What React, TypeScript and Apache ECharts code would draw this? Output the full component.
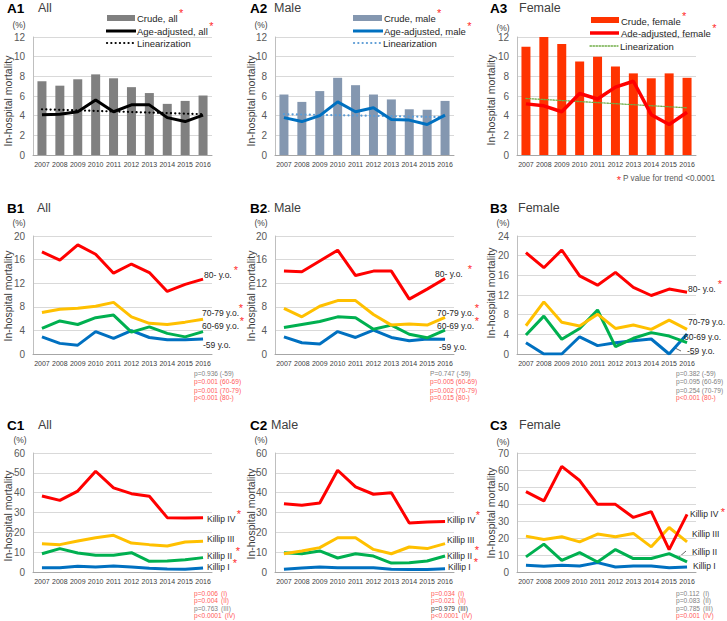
import React, { useEffect, useRef } from 'react';
import * as echarts from 'echarts';

const FONT = "'Liberation Sans', Arial, sans-serif";

const years = ['2007', '2008', '2009', '2010', '2011', '2012', '2013', '2014', '2015', '2016'];

// Row A: crude bars, age-adjusted lines, linearization (endpoints only)
const a1Crude = [7.5, 7.05, 7.7, 8.2, 7.8, 6.9, 6.3, 5.2, 5.5, 6.05];
const a1Adj = [4.1, 4.15, 4.4, 5.6, 4.4, 5.1, 5.1, 3.8, 3.4, 4.05];
const a1Lin = [4.65, null, null, null, null, null, null, null, null, 4.15];
const a2Crude = [6.15, 5.4, 6.5, 7.85, 7.1, 6.15, 5.65, 4.65, 4.6, 5.5];
const a2Adj = [3.8, 3.4, 4.0, 5.4, 4.4, 4.8, 3.6, 3.55, 3.1, 4.05];
const a2Lin = [4.15, null, null, null, null, null, null, null, null, 3.85];
const a3Crude = [11.0, 12.0, 11.3, 9.5, 10.0, 9.0, 8.3, 7.8, 8.3, 7.85];
const a3Adj = [5.2, 5.0, 4.4, 6.25, 5.7, 6.9, 7.5, 4.1, 3.1, 4.35];
const a3Lin = [5.75, null, null, null, null, null, null, null, null, 4.8];

// Row B: age groups
const b1Age80 = [17.3, 15.9, 18.5, 16.9, 13.7, 15.25, 13.8, 10.6, 11.8, 12.7];
const b1Age70 = [7.05, 7.6, 7.75, 8.1, 8.75, 6.3, 5.2, 5.0, 5.4, 5.9];
const b1Age60 = [4.35, 5.6, 5.0, 6.15, 6.6, 3.7, 4.6, 3.5, 2.9, 3.8];
const b1Age59 = [2.9, 1.8, 1.5, 3.8, 2.65, 3.95, 2.8, 2.4, 2.4, 2.55];
const b2Age80 = [14.05, 13.95, 15.75, 17.6, 13.3, 14.05, 14.05, 9.3, 11.0, 12.8];
const b2Age70 = [7.75, 6.3, 8.1, 9.05, 9.05, 6.7, 4.9, 5.1, 4.9, 6.2];
const b2Age60 = [4.5, 5.0, 5.5, 6.3, 6.15, 4.2, 4.9, 3.35, 2.75, 4.05];
const b2Age59 = [2.9, 1.9, 1.7, 3.8, 2.8, 4.05, 2.8, 2.25, 2.55, 2.5];
const b3Age80 = [20.6, 17.55, 21.15, 15.9, 14.0, 16.6, 13.55, 11.9, 13.2, 12.55];
const b3Age70 = [5.75, 10.6, 6.45, 5.7, 8.1, 5.2, 5.9, 5.0, 6.9, 5.0];
const b3Age60 = [3.85, 7.7, 3.0, 5.2, 8.95, 1.5, 3.2, 4.35, 3.65, 2.3];
const b3Age59 = [2.3, 0, 0, 3.5, 1.7, 2.3, 2.7, 3.05, 0, 4.05];

// Row C: Killip class
const c1K4 = [38.3, 36.1, 40.8, 50.8, 42.4, 39.5, 38.2, 27.4, 27.2, 27.4];
const c1K3 = [14.3, 13.8, 15.6, 17.3, 18.5, 14.6, 13.8, 13.1, 15.1, 15.5];
const c1K2 = [9.2, 11.8, 9.6, 8.4, 8.4, 9.75, 5.4, 5.55, 6.2, 7.25];
const c1K1 = [2.2, 2.2, 2.85, 2.5, 3.0, 2.5, 1.85, 1.5, 1.35, 2.0];
const c2K4 = [34.45, 33.6, 34.8, 51.3, 42.9, 39.2, 40.0, 24.7, 25.2, 25.5];
const c2K3 = [9.2, 10.6, 12.3, 17.3, 17.3, 11.4, 9.2, 12.6, 11.8, 14.3];
const c2K2 = [9.75, 9.2, 10.6, 7.05, 9.2, 8.05, 4.5, 4.7, 5.55, 8.05];
const c2K1 = [1.35, 2.0, 2.5, 2.2, 2.2, 2.2, 1.35, 1.2, 1.2, 1.7];
const c3K4 = [47.3, 41.8, 62.1, 53.8, 39.8, 39.8, 32.1, 35.5, 13.2, 33.9];
const c3K3 = [21.1, 19.1, 20.7, 17.75, 22.3, 20.7, 22.7, 14.8, 26.2, 17.75];
const c3K2 = [8.9, 16.4, 6.9, 11.4, 5.9, 13.2, 7.9, 7.9, 10.8, 5.9];
const c3K1 = [3.9, 3.35, 3.9, 3.55, 5.5, 2.95, 3.55, 3.55, 2.55, 2.95];

const RED = '#FF0000';
const YEL = '#FFC000';
const GRN = '#00B050';
const BLU = '#0070C0';
const PRED = '#FF5B5B';
const PGRY = '#7F7F7F';

const colLeft = [33, 275, 517];
const rowTop = [37, 236, 453];
const rowH = [118, 118, 119];
const yMax = [12, 12, 12, 20, 20, 24, 60, 60, 70];
const yInt = [2, 2, 2, 4, 4, 4, 10, 10, 10];

let measureCtx: CanvasRenderingContext2D | null = null;
function tw(text: string, size: number, weight = 'normal') {
  if (!measureCtx) measureCtx = document.createElement('canvas').getContext('2d');
  if (!measureCtx) return text.length * size * 0.5;
  measureCtx.font = `${weight} ${size}px ${FONT}`;
  return measureCtx.measureText(text).width;
}

function txt(x: number, y: number, text: string, size: number, fill = '#404040', align = 'left', weight = 'normal', rotation = 0) {
  return {
    type: 'text',
    x,
    y,
    rotation,
    silent: true,
    z: 10,
    style: {
      text,
      fill,
      font: `${weight} ${size}px ${FONT}`,
      align,
      verticalAlign: 'middle',
      textAlign: align,
      textVerticalAlign: 'middle',
    },
  };
}
function star(x: number, y: number) {
  return txt(x, y, '*', 11, '#FF2A2A', 'center');
}
function hline(x1: number, x2: number, y: number, color: string, width: number, dash?: number[]) {
  return {
    type: 'line',
    silent: true,
    shape: { x1, y1: y, x2, y2: y },
    style: { stroke: color, lineWidth: width, lineDash: dash, lineCap: dash ? 'round' : 'butt' },
  };
}

function buildOption() {
  const grid: any[] = [];
  const xAxis: any[] = [];
  const yAxis: any[] = [];
  for (let i = 0; i < 9; i++) {
    const r = Math.floor(i / 3);
    const c = i % 3;
    grid.push({ left: colLeft[c], top: rowTop[r], width: 179, height: rowH[r] });
    xAxis.push({
      type: 'category',
      gridIndex: i,
      data: years,
      boundaryGap: true,
      axisTick: { show: false },
      axisLine: { lineStyle: { color: '#A6A6A6', width: 1 } },
      axisLabel: { interval: 0, fontSize: 7, color: '#404040', margin: 6, fontFamily: FONT },
    });
    yAxis.push({
      type: 'value',
      gridIndex: i,
      min: 0,
      max: yMax[i],
      interval: yInt[i],
      axisLine: { show: true, lineStyle: { color: '#BFBFBF' } },
      axisTick: { show: false },
      splitLine: { lineStyle: { color: '#D9D9D9' } },
      axisLabel: { fontSize: 10, color: '#595959', margin: 8, fontFamily: FONT },
    });
  }

  const series: any[] = [];
  const bar = (i: number, data: number[], color: string) =>
    series.push({ type: 'bar', xAxisIndex: i, yAxisIndex: i, data, barWidth: 9, itemStyle: { color }, z: 2 });
  const line = (i: number, data: (number | null)[], color: string, width = 3, type: any = 'solid', connect = false) =>
    series.push({
      type: 'line',
      xAxisIndex: i,
      yAxisIndex: i,
      data,
      symbol: 'none',
      connectNulls: connect,
      lineStyle: { color, width, type, cap: type === 'solid' ? 'butt' : 'round' },
      z: 3,
    });

  bar(0, a1Crude, '#808080');
  line(0, a1Lin, '#000000', 2.2, [0.1, 4.2], true);
  line(0, a1Adj, '#000000', 3);
  bar(1, a2Crude, '#8497B0');
  line(1, a2Lin, '#5B9BD5', 2.2, [0.1, 4.2], true);
  line(1, a2Adj, '#0070C0', 3);
  bar(2, a3Crude, '#FF3300');
  line(2, a3Lin, '#70AD47', 1.3, [1.5, 1.5], true);
  line(2, a3Adj, '#FF0000', 3.5);

  const groups: [number, (number | null)[][]][] = [
    [3, [b1Age59, b1Age60, b1Age70, b1Age80]],
    [4, [b2Age59, b2Age60, b2Age70, b2Age80]],
    [5, [b3Age59, b3Age60, b3Age70, b3Age80]],
    [6, [c1K1, c1K2, c1K3, c1K4]],
    [7, [c2K1, c2K2, c2K3, c2K4]],
    [8, [c3K1, c3K2, c3K3, c3K4]],
  ];
  const gc = [BLU, GRN, YEL, RED];
  groups.forEach(([i, arr]) => arr.forEach((d, k) => line(i, d, gc[k], 3)));

  const g: any[] = [];
  const starred = (x: number, y: number, t: string, size: number, fill: string, hasStar: boolean, dy = -5) => {
    g.push(txt(x, y, t, size, fill));
    if (hasStar) g.push(star(x + tw(t, size) + 3.5, y + dy));
  };

  // Titles
  const titles: [number, number, string, number, string][] = [
    [7, 8, 'A1', 38, 'All'],
    [250, 8, 'A2', 274, 'Male'],
    [490, 8, 'A3', 519, 'Female'],
    [7, 208, 'B1', 37, 'All'],
    [250, 208, 'B2', 267, '. Male'],
    [490, 208, 'B3', 518, 'Female'],
    [7, 425, 'C1', 38, 'All'],
    [250, 425, 'C2', 271, 'Male'],
    [490, 425, 'C3', 519, 'Female'],
  ];
  titles.forEach(([x, y, b, x2, t]) => {
    g.push(txt(x, y, b, 13.5, '#000000', 'left', 'bold'));
    g.push(txt(x2, y, t, 12.5, '#404040'));
  });
  // (%) marks
  const pct: [number, number][] = [
    [19, 25], [261, 25], [503, 28],
    [19, 223], [261, 223], [503, 223],
    [20, 440], [261, 440], [503, 442],
  ];
  pct.forEach(([x, y]) => g.push(txt(x, y, '(%)', 8.5, '#404040', 'center')));
  // y titles
  const yt: [number, number][] = [
    [8, 101], [251, 101], [491, 100],
    [8, 296], [251, 296], [491, 293],
    [8, 516], [251, 514], [491, 513],
  ];
  yt.forEach(([x, y]) => g.push(txt(x, y, 'In-hospital mortality', 10.5, '#404040', 'center', 'normal', Math.PI / 2)));

  // Legends row A
  const LF = 9.5;
  const LC = '#262626';
  g.push({ type: 'rect', silent: true, shape: { x: 107, y: 15, width: 28, height: 6 }, style: { fill: '#808080' } });
  starred(137, 18, 'Crude, all', LF, LC, true);
  g.push(hline(106, 136, 31, '#000000', 3));
  starred(137, 31, 'Age-adjusted, all', LF, LC, true);
  g.push(hline(107, 135, 43, '#000000', 2.2, [0.1, 4.2]));
  starred(137, 43, 'Linearization', LF, LC, false);

  g.push({ type: 'rect', silent: true, shape: { x: 353, y: 15, width: 29, height: 6 }, style: { fill: '#8497B0' } });
  starred(384, 18, 'Crude, male', LF, LC, true);
  g.push(hline(353, 383, 31, '#0070C0', 3));
  starred(384, 31, 'Age-adjusted, male', LF, LC, true);
  g.push(hline(354, 381, 43, '#5B9BD5', 2.2, [0.1, 4.2]));
  starred(383, 43, 'Linearization', LF, LC, false);

  g.push({ type: 'rect', silent: true, shape: { x: 591, y: 17, width: 28, height: 6 }, style: { fill: '#FF3300' } });
  starred(621, 21, 'Crude, female', LF, LC, true);
  g.push(hline(590, 619, 33, '#FF0000', 3.5));
  starred(621, 33, 'Ade-adjusted, female', LF, LC, true);
  g.push(hline(590, 618, 46, '#70AD47', 1.3, [1.5, 1.5]));
  starred(620, 46, 'Linearization', LF, LC, false);
  g.push(star(619, 180));
  g.push(txt(623, 178, 'P value for trend <0.0001', 8.2, '#595959'));

  // Row B / C series labels
  const lab: [number, number, string][] = [
    [204, 275, '80- y.o.'], [202, 313, '70-79 y.o.'], [202, 326, '60-69 y.o.'], [203, 345, '-59 y.o.'],
    [435, 274, '80- y.o.'], [437, 313, '70-79 y.o.'], [437, 326, '60-69 y.o.'], [439, 347, '-59 y.o.'],
    [688, 289, '80- y.o.'], [688, 322, '70-79 y.o.'], [684, 337, '60-69 y.o.'], [687, 351, '-59 y.o.'],
    [207, 519, 'Killip IV'], [207, 539, 'Killip III'], [207, 556, 'Killip II'], [207, 567, 'Killip I'],
    [447, 520, 'Killip IV'], [447, 540, 'Killip III'], [447, 556, 'Killip II'], [448, 567, 'Killip I'],
    [690, 514, 'Killip IV'], [692, 534, 'Killip III'], [692, 552, 'Killip II'], [693, 566, 'Killip I'],
  ];
  lab.forEach(([x, y, t]) => g.push(txt(x, y, t, 8.5, '#262626')));
  // asterisks marking significant trends (positions)
  const stars: [number, number][] = [
    [236, 270], [241, 308], [242, 321],
    [470, 269], [477, 308], [477, 321],
    [720, 284],
    [239, 514], [238, 551], [235, 563],
    [478, 515], [477, 550], [476, 562],
    [723, 512],
  ];
  stars.forEach(([x, y]) => g.push(star(x, y)));
  g.push({ type: 'line', silent: true, shape: { x1: 675, y1: 348, x2: 681, y2: 351 }, style: { stroke: '#404040', lineWidth: 0.8 } });
  g.push({ type: 'line', silent: true, shape: { x1: 678, y1: 558, x2: 686, y2: 551 }, style: { stroke: '#404040', lineWidth: 0.8 } });

  // p-values
  const PF = 6.6;
  const pvB: [number, string[], string[]][] = [
    [194, ['p=0.936 (-59)', 'p=0.001 (60-69)', 'p=0.001 (70-79)', 'p<0.001 (80-)'], [PGRY, PRED, PRED, PRED]],
    [430, ['P=0.747 (-59)', 'p=0.005 (60-69)', 'p=0.002 (70-79)', 'p=0.015 (80-)'], [PGRY, PRED, PRED, PRED]],
    [676, ['p=0.382 (-59)', 'p=0.095 (60-69)', 'p=0.254 (70-79)', 'p<0.001 (80-)'], [PGRY, PGRY, PGRY, PRED]],
  ];
  const pyB = [373, 381.5, 390, 397.5];
  pvB.forEach(([x, ts, cs]) => ts.forEach((t, k) => g.push(txt(x, pyB[k], t, PF, cs[k]))));

  const pvC: [number, string[], string[], string[]][] = [
    [194, ['p=0.006', 'p=0.004', 'p=0.763', 'p<0.0001'], ['(I)', '(II)', '(III)', '(IV)'], [PRED, PRED, PGRY, PRED]],
    [431, ['p=0.034', 'p=0.021', 'p=0.979', 'p<0.0001'], ['(I)', '(II)', '(III)', '(IV)'], [PRED, PRED, '#404040', PRED]],
    [676, ['p=0.112', 'p=0.083', 'p=0.785', 'p=0.001'], ['(I)', '(II)', '(III)', '(IV)'], [PGRY, PGRY, PGRY, PRED]],
  ];
  const pyC = [593, 600.5, 608, 615.5];
  pvC.forEach(([x, ts, ps, cs]) =>
    ts.forEach((t, k) => {
      g.push(txt(x, pyC[k], t, PF, cs[k]));
      const x2 = t.startsWith('p<') ? x + tw(t, PF) + 3 : x + 27;
      g.push(txt(x2, pyC[k], ps[k], PF, cs[k]));
    })
  );

  return {
    animation: false,
    backgroundColor: '#ffffff',
    textStyle: { fontFamily: FONT },
    grid,
    xAxis,
    yAxis,
    series,
    graphic: g,
  };
}

export default function App() {
  const ref = useRef<HTMLDivElement>(null);
  useEffect(() => {
    const chart = echarts.init(ref.current!, null, { renderer: 'svg' });
    chart.setOption(buildOption() as any);
    return () => chart.dispose();
  }, []);
  return <div ref={ref} style={{ position: 'absolute', left: 0, top: 0, width: 727, height: 621 }} />;
}
